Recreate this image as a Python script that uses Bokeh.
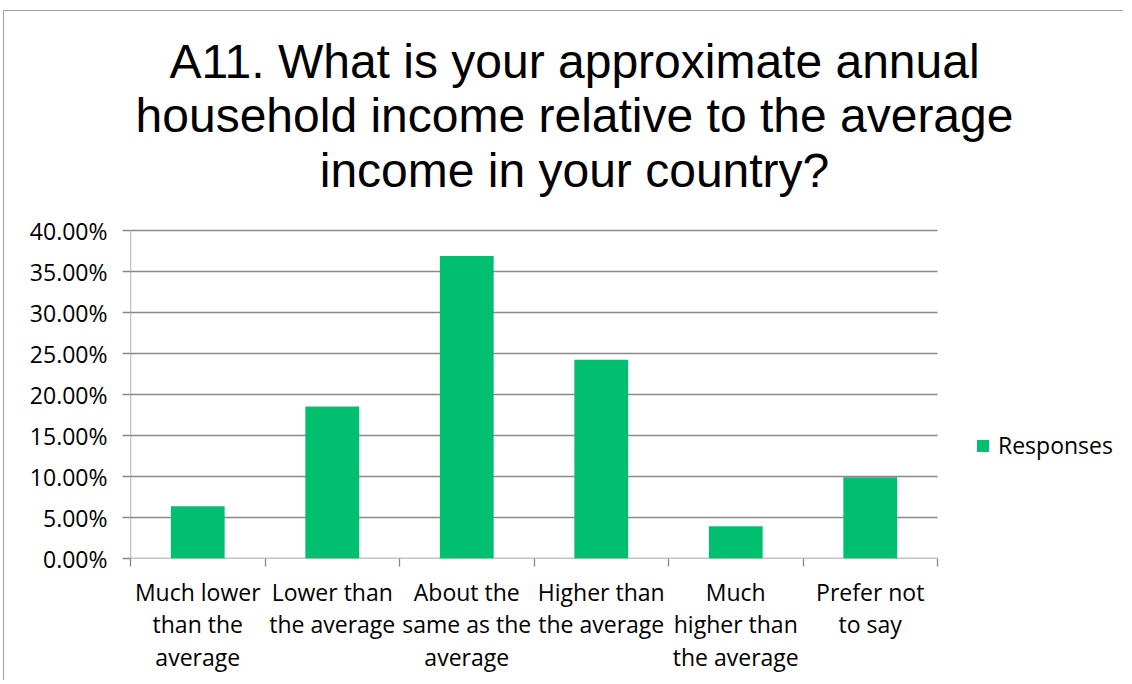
from bokeh.plotting import figure
from bokeh.models import (Range1d, FixedTicker, NumeralTickFormatter, Legend,
                          LegendItem, Label, ColumnDataSource)
from bokeh.embed import file_html
from bokeh.resources import INLINE

# ---- data ----
categories = [
    "Much lower\nthan the\naverage",
    "Lower than\nthe average",
    "About the\nsame as the\naverage",
    "Higher than\nthe average",
    "Much\nhigher than\nthe average",
    "Prefer not\nto say",
]
responses = [0.0637, 0.1853, 0.3690, 0.2425, 0.0393, 0.0990]
series_name = "Responses"
title_lines = [
    "A11. What is your approximate annual",
    "household income relative to the average",
    "income in your country?",
]
y_ticks = [0.0, 0.05, 0.10, 0.15, 0.20, 0.25, 0.30, 0.35, 0.40]

# ---- layout constants (page pixels) ----
W, H = 1120, 670            # canvas, placed at page (4, 11)
CANVAS_X, CANVAS_Y = 4, 11
PLOT_L, PLOT_R = 130, 937   # plot area in page px
PLOT_T, PLOT_B = 230, 558
FRAME_T = 20
YMAX = 0.40
GRID = "#898989"
BAR = "#00BF6F"
LABEL_FONT = "Open Sans"
LABEL_SIZE = "23px"

n = len(categories)
centers = [i + 0.5 for i in range(n)]
src = ColumnDataSource(dict(x=centers, top=responses))

# ranges extended so that the frame covers title and legend area
px_per_x = (PLOT_R - PLOT_L) / n
px_per_y = (PLOT_B - PLOT_T) / YMAX
x_end = (CANVAS_X + W - PLOT_L) / px_per_x
y_end = (PLOT_B - FRAME_T) / px_per_y

p = figure(width=W, height=H, x_range=Range1d(0, x_end), y_range=Range1d(0, y_end),
           output_backend="svg", toolbar_location=None,
           min_border_left=PLOT_L - CANVAS_X, min_border_right=0,
           min_border_top=FRAME_T - CANVAS_Y,
           min_border_bottom=CANVAS_Y + H - PLOT_B,
           outline_line_color=None, background_fill_color="white",
           border_fill_color="white")
p.styles = {"margin-left": "3px", "margin-top": "10px",
            "border-top": "1px solid #a0a0a0", "border-left": "1px solid #a0a0a0"}

# gridlines (incl. baseline) limited to the plot area
p.segment(x0=[0] * len(y_ticks), x1=[n] * len(y_ticks), y0=y_ticks, y1=y_ticks,
          line_color=GRID, line_width=1.3)
# y axis line
p.segment(x0=[0], x1=[0], y0=[0], y1=[YMAX], line_color=GRID, line_width=1.3)

r = p.vbar(x="x", top="top", width=0.4, source=src, fill_color=BAR, line_color=None)

# y axis
p.yaxis.ticker = FixedTicker(ticks=y_ticks)
p.yaxis.formatter = NumeralTickFormatter(format="0.00%")
p.yaxis.major_tick_in = 0
p.yaxis.major_tick_out = 8
p.yaxis.minor_tick_line_color = None
p.yaxis.axis_line_color = None
p.yaxis.major_tick_line_color = GRID
p.yaxis.major_tick_line_width = 1.3
p.yaxis.major_label_text_font = LABEL_FONT
p.yaxis.major_label_text_font_size = LABEL_SIZE
p.yaxis.major_label_text_color = "#000000"
p.yaxis.major_label_standoff = 15

# x axis: labels at centers, ticks at boundaries
p.xaxis.ticker = FixedTicker(ticks=centers, minor_ticks=list(range(n + 1)))
p.xaxis.major_label_overrides = {c: lab for c, lab in zip(centers, categories)}
p.xaxis.major_tick_line_color = None
p.xaxis.minor_tick_in = 0
p.xaxis.minor_tick_out = 8
p.xaxis.minor_tick_line_color = GRID
p.xaxis.minor_tick_line_width = 1.3
p.xaxis.axis_line_color = None
p.xaxis.major_label_text_font = LABEL_FONT
p.xaxis.major_label_text_font_size = LABEL_SIZE
p.xaxis.major_label_text_color = "#000000"
p.xaxis.major_label_text_line_height = 1.03
p.xaxis.major_label_standoff = 9

p.xgrid.grid_line_color = None
p.ygrid.grid_line_color = None

# title
title_cx = (574 - PLOT_L) / px_per_x
for line, base_px in zip(title_lines, [60.7, 115.0, 169.5]):
    p.add_layout(Label(x=title_cx, y=(PLOT_B - base_px) / px_per_y, text=line,
                       text_align="center", text_baseline="alphabetic",
                       text_font="Liberation Sans", text_font_size="48px",
                       text_color="#000000"))

legend = Legend(items=[LegendItem(label=series_name, renderers=[r])],
                location=(845, 97), glyph_width=15, glyph_height=15,
                label_standoff=8, padding=0, margin=0, border_line_color=None,
                background_fill_alpha=0, label_text_font=LABEL_FONT,
                label_text_font_size=LABEL_SIZE, label_text_color="#000000")
p.add_layout(legend, "center")

open("out.html", "w").write(file_html(p, INLINE))
